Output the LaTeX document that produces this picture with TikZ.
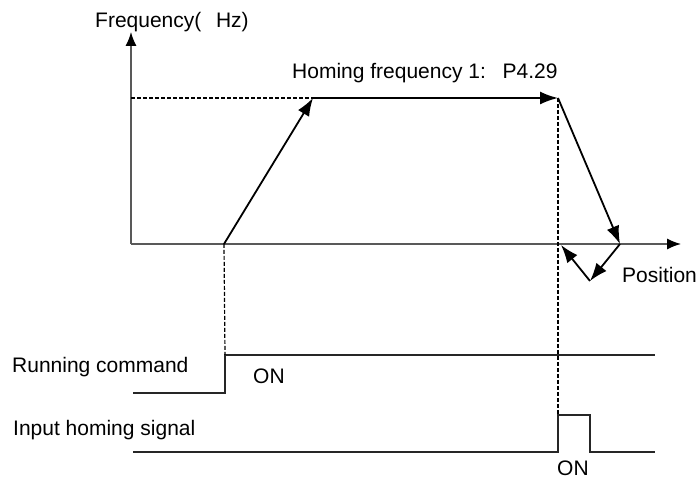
\documentclass[tikz,border=0pt]{standalone}
\usepackage{fontspec}
\setmainfont{Liberation Sans}
\usetikzlibrary{arrows.meta}

\begin{document}
\begin{tikzpicture}
[x=1pt, y=1pt,
axis/.style={black!65, line width = 1.3pt, -{Latex[length=14pt,width=11pt,black]}},
guide/.style={black, line width = 1.2pt, dash pattern=on 4pt off 2pt},
move/.style={black, line width = 1.8pt, -{Latex[length=18pt,width=13pt]}},
signal/.style={black!85, line width = 1.2pt},
label/.style={font=\fontsize{21}{25}\selectfont, anchor=west, inner sep=0pt}]
\useasboundingbox (0,0) rectangle (699,481);
% axes
\coordinate (O) at (131,237);
\coordinate (ytop) at (131,449);
\coordinate (xend) at (681,237);
\draw[axis] (O) -- (ytop);
\draw[axis] (O) -- (xend);
% homing profile
\coordinate (A) at (224,237);
\coordinate (B) at (313,383);
\coordinate (C) at (558,383);
\coordinate (D) at (620,237);
\coordinate (E) at (590,200);
\coordinate (F) at (561,236);
\coordinate (fy) at (131,383);
\draw[guide] (fy) -- (B);
\draw[move] (A) -- (B);
\draw[move] (B) -- (C);
\draw[move] (C) -- (D);
\draw[move] (D) -- (E);
\draw[move] (E) -- (F);
% running command
\coordinate (r0) at (133,88);
\coordinate (r1) at (225,88);
\coordinate (r2) at (225,126);
\coordinate (r3) at (655,126);
\draw[signal] (r0) -- (r1) -- (r2) -- (r3);
% input homing signal
\coordinate (h0) at (133,29);
\coordinate (h1) at (558,29);
\coordinate (h2) at (558,66);
\coordinate (h3) at (590,66);
\coordinate (h4) at (590,29);
\coordinate (h5) at (655,29);
\draw[signal] (h0) -- (h1) -- (h2) -- (h3) -- (h4) -- (h5);
\draw[guide] (A) -- (r2);
\draw[guide] (C) -- (h2);
% texts
\node[label] (freq) at (95,459) {Frequency(\hspace{0.7em}Hz)};
\node[label] (homfreq) at (292,408) {Homing frequency 1:\hspace{0.8em}P4.29};
\node[label] (pos) at (622,206) {Position};
\node[label] (run) at (12,114) {Running command};
\node[label] (on1) at (253,105) {ON};
\node[label] (inp) at (13,51) {Input homing signal};
\node[label] (on2) at (557,13) {ON};
\end{tikzpicture}
\end{document}
